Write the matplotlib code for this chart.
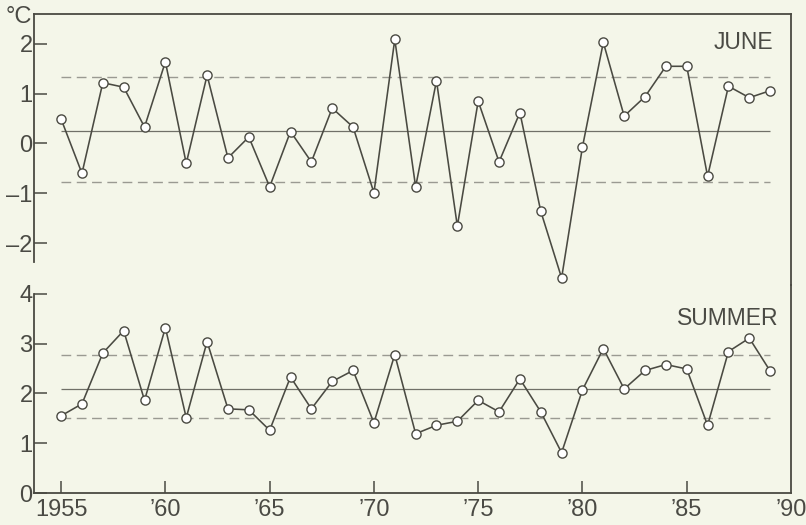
import matplotlib
matplotlib.use("Agg")
import matplotlib.pyplot as plt
import numpy as np

years = list(range(1955, 1990))
june = [0.49, -0.60, 1.22, 1.13, 0.33, 1.64, -0.40, 1.37, -0.29, 0.13,
        -0.87, 0.24, -0.37, 0.71, 0.33, -0.99, 2.09, -0.87, 1.26, -1.66,
        0.85, -0.37, 0.62, -1.36, -2.70, -0.07, 2.03, 0.55, 0.94, 1.55,
        1.55, -0.66, 1.15, 0.92, 1.06]
summer = [1.55, 1.79, 2.81, 3.26, 1.86, 3.32, 1.51, 3.04, 1.69, 1.67,
          1.26, 2.33, 1.69, 2.24, 2.46, 1.41, 2.78, 1.19, 1.36, 1.44,
          1.86, 1.63, 2.29, 1.63, 0.81, 2.07, 2.90, 2.09, 2.46, 2.58,
          2.49, 1.36, 2.84, 3.11, 2.45]
june_mean, june_lo, june_hi = 0.26, -0.78, 1.34
summer_mean, summer_lo, summer_hi = 2.09, 1.51, 2.77

june_ticks = [-2, -1, 0, 1, 2]
summer_ticks = [0, 1, 2, 3, 4]
xticks = [1955, 1960, 1965, 1970, 1975, 1980, 1985, 1990]
xlabels = ["1955", "\u201960", "\u201965", "\u201970", "\u201975", "\u201980", "\u201985", "\u201990"]

bg = "#f4f6e9"
lc = "#4a4a42"
tc = "#4a4a44"
plt.rcParams['font.family'] = ['Liberation Sans', 'DejaVu Sans']

fig = plt.figure(figsize=(8.06, 5.25), dpi=100, facecolor=bg)
left, right = 34/806, 791/806
top_t, mid, bot = 1-14/525, 1-285/525, 1-493/525
ax1 = fig.add_axes([left, mid, right-left, top_t-mid], facecolor="none")
ax2 = fig.add_axes([left, bot, right-left, mid-bot], facecolor="none")

xmin, xmax = 1953.7, 1990.0
px_per_unit = 49.8
h1 = (top_t-mid)*525
h2 = (mid-bot)*525
ax1.set_ylim(2.6 - h1/px_per_unit, 2.6)
ax2.set_ylim(0, h2/px_per_unit)

def fmt(t):
    return str(t) if t >= 0 else "\u2013" + str(abs(t))

for ax, data, m, lo, hi, label, ticks, tx, ty in [
        (ax1, june, june_mean, june_lo, june_hi, "JUNE", june_ticks, 0.977, 0.895),
        (ax2, summer, summer_mean, summer_lo, summer_hi, "SUMMER", summer_ticks, 0.983, 0.84)]:
    ax.set_xlim(xmin, xmax)
    ax.hlines(m, years[0], years[-1], color="#707068", lw=0.9)
    ax.hlines([lo, hi], years[0], years[-1], color="#9a9a92", lw=1.0,
              linestyles=(0, (7, 4)))
    ax.plot(years, data, color=lc, lw=1.15, marker="o", ms=6.6,
            mfc="white", mec=lc, mew=1.0, clip_on=False, zorder=3)
    ax.set_yticks(ticks)
    ax.set_yticklabels([fmt(t) for t in ticks])
    ax.tick_params(axis="y", direction="in", length=9, width=1.1, color=lc,
                   labelsize=17, labelcolor=tc, pad=1)
    for s in ax.spines.values():
        s.set_color(lc)
        s.set_linewidth(1.3)
    ax.text(tx, ty, label, transform=ax.transAxes, ha="right", va="center",
            fontsize=16.5, color=tc)

ax1.spines["bottom"].set_visible(False)
ax1.spines["left"].set_bounds(-2.37, 2.6)
ax1.tick_params(axis="x", bottom=False, labelbottom=False)
ax2.spines["top"].set_visible(False)
ax2.spines["left"].set_bounds(0, 4)
ax2.set_xticks(xticks)
ax2.set_xticklabels(xlabels)
ax2.tick_params(axis="x", direction="in", length=9, width=1.1, color=lc,
                labelsize=17, labelcolor=tc, pad=4)
ax2.get_xticklines()[-2].set_visible(False)

fig.text(6/806, 1-17/525, "\u00b0C", fontsize=17, color=tc,
         ha="left", va="center")

fig.savefig("out.png", dpi=100, facecolor=bg)
